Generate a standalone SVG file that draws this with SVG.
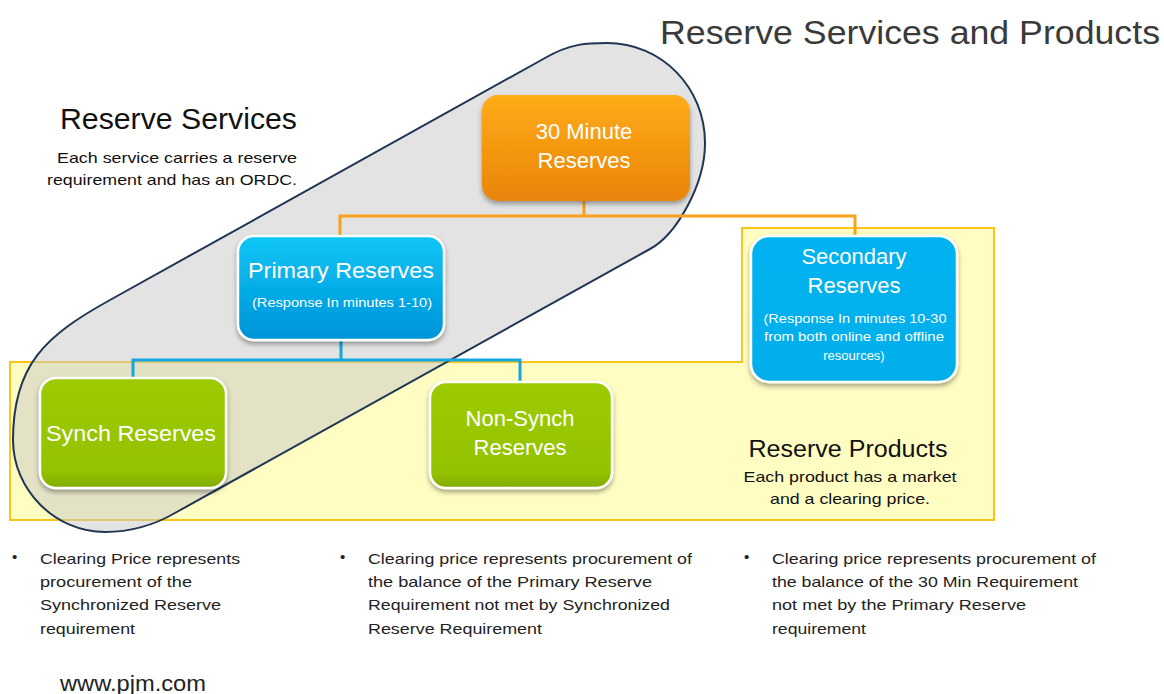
<svg xmlns="http://www.w3.org/2000/svg" width="1164" height="694" viewBox="0 0 1164 694">
  <style>
    text { font-family: "Liberation Sans", Arial, sans-serif; }
    .title { font-size: 33px; fill: #3a3a3a; }
    .head { font-size: 29px; fill: #111; }
    .sub { font-size: 15px; fill: #111; }
    .box-t { font-size: 22px; fill: #ffffff; text-anchor: middle; }
    .box-s { font-size: 13px; fill: #ffffff; text-anchor: middle; }
    .bul { font-size: 15px; fill: #222; }
    .conn-o { stroke: #f7a21b; stroke-width: 3; fill: none; }
    .conn-b { stroke: #14a8e0; stroke-width: 3; fill: none; }
    .box { stroke: #ffffff; stroke-width: 2.5; filter: url(#shadow); }
  </style>
  <defs>
    <filter id="shadow" x="-10%" y="-10%" width="120%" height="130%">
      <feDropShadow dx="0" dy="3" stdDeviation="2.5" flood-color="#000" flood-opacity="0.35"/>
    </filter>
    <linearGradient id="gOrange" x1="0" y1="0" x2="0" y2="1">
      <stop offset="0" stop-color="#ffac16"/>
      <stop offset="1" stop-color="#e9840b"/>
    </linearGradient>
    <linearGradient id="gBlue" x1="0" y1="0" x2="0" y2="1">
      <stop offset="0" stop-color="#0cc6f6"/>
      <stop offset="1" stop-color="#0094d8"/>
    </linearGradient>
    <linearGradient id="gBlue2" x1="0" y1="0" x2="0" y2="1">
      <stop offset="0" stop-color="#00b3f0"/>
      <stop offset="1" stop-color="#00aeea"/>
    </linearGradient>
    <linearGradient id="gGreen" x1="0" y1="0" x2="0" y2="1">
      <stop offset="0" stop-color="#9dcb00"/>
      <stop offset="0.85" stop-color="#93c200"/>
      <stop offset="1" stop-color="#82ab00"/>
    </linearGradient>
  </defs>

  <rect x="0" y="0" width="1164" height="694" fill="#ffffff"/>

  <!-- Reserve Products area -->
  <g id="products-area">
    <path d="M742 228 L994 228 L994 520 L10 520 L10 362 L742 362 Z" fill="#fffdc2" stroke="#f9c41c" stroke-width="2"/>
  </g>

  <!-- Reserve Services capsule -->
  <g id="services-capsule">
    <path d="M110 300 L545 58 C571 43 588 43 607 43 C662 43 705 88 705 143 C705 185 676 235 650 249 L175 513 C149 528 125 532 105 532 C55 532 13 490 13 440 C13 365 45 336 110 300 Z" fill="#c8c8c8" fill-opacity="0.5" stroke="#1f3552" stroke-width="2"/>
  </g>

  <!-- Connectors -->
  <g id="connectors">
    <path class="conn-o" d="M584 200 V216 M340 236 V216 H855 V236"/>
    <path class="conn-b" d="M341 340 V360 M133 378 V360 H520 V382"/>
  </g>

  <g id="node-30min">
    <rect x="482" y="95" width="208" height="106" rx="16" fill="url(#gOrange)" filter="url(#shadow)"/>
    <text class="box-t" x="584" y="139">30 Minute</text>
    <text class="box-t" x="584" y="168">Reserves</text>
  </g>

  <g id="node-primary">
    <rect class="box" x="238" y="236" width="206" height="104" rx="16" fill="url(#gBlue)"/>
    <text class="box-t" x="341" y="278" textLength="186" lengthAdjust="spacingAndGlyphs">Primary Reserves</text>
    <text class="box-s" x="342" y="307" textLength="180" lengthAdjust="spacingAndGlyphs">(Response  In minutes  1-10)</text>
  </g>

  <g id="node-secondary">
    <rect class="box" x="751" y="236" width="206" height="146" rx="18" fill="url(#gBlue2)"/>
    <text class="box-t" x="854" y="264">Secondary</text>
    <text class="box-t" x="854" y="293">Reserves</text>
    <text class="box-s" x="855" y="323" textLength="183" lengthAdjust="spacingAndGlyphs">(Response  In minutes  10-30</text>
    <text class="box-s" x="854" y="341" textLength="180" lengthAdjust="spacingAndGlyphs">from both  online and  offline</text>
    <text class="box-s" x="854" y="360">resources)</text>
  </g>

  <g id="node-synch">
    <rect class="box" x="40" y="378" width="186" height="110" rx="16" fill="url(#gGreen)"/>
    <text class="box-t" x="131" y="441" textLength="170" lengthAdjust="spacingAndGlyphs">Synch Reserves</text>
  </g>

  <g id="node-nonsynch">
    <rect class="box" x="430" y="382" width="182" height="106" rx="16" fill="url(#gGreen)"/>
    <text class="box-t" x="520" y="426">Non-Synch</text>
    <text class="box-t" x="520" y="455">Reserves</text>
  </g>

  <!-- Labels -->
  <g id="title">
    <text class="title" x="660" y="44" textLength="500" lengthAdjust="spacingAndGlyphs">Reserve Services and Products</text>
  </g>

  <g id="label-services">
    <text class="head" x="297" y="129" text-anchor="end" textLength="237" lengthAdjust="spacingAndGlyphs">Reserve Services</text>
    <text class="sub" x="297" y="163" text-anchor="end" textLength="240" lengthAdjust="spacingAndGlyphs">Each service carries a reserve</text>
    <text class="sub" x="297" y="185" text-anchor="end" textLength="250" lengthAdjust="spacingAndGlyphs">requirement and has an ORDC.</text>
  </g>

  <g id="label-products">
    <text x="848" y="457" text-anchor="middle" style="font-size:23px;fill:#111" textLength="199" lengthAdjust="spacingAndGlyphs">Reserve Products</text>
    <text class="sub" x="850" y="482" text-anchor="middle" textLength="213" lengthAdjust="spacingAndGlyphs">Each product has a market</text>
    <text class="sub" x="850" y="504" text-anchor="middle" textLength="160" lengthAdjust="spacingAndGlyphs">and a clearing price.</text>
  </g>

  <g id="notes-synch">
    <text class="bul" x="12" y="562">•</text>
    <text class="bul" x="40" y="564" textLength="200" lengthAdjust="spacingAndGlyphs">Clearing Price represents</text>
    <text class="bul" x="40" y="587" textLength="152" lengthAdjust="spacingAndGlyphs">procurement of the</text>
    <text class="bul" x="40" y="610" textLength="181" lengthAdjust="spacingAndGlyphs">Synchronized Reserve</text>
    <text class="bul" x="40" y="634" textLength="95" lengthAdjust="spacingAndGlyphs">requirement</text>
  </g>

  <g id="notes-nonsynch">
    <text class="bul" x="340" y="562">•</text>
    <text class="bul" x="368" y="564" textLength="324" lengthAdjust="spacingAndGlyphs">Clearing price represents procurement of</text>
    <text class="bul" x="368" y="587" textLength="284" lengthAdjust="spacingAndGlyphs">the balance of the Primary Reserve</text>
    <text class="bul" x="368" y="610" textLength="302" lengthAdjust="spacingAndGlyphs">Requirement not met by Synchronized</text>
    <text class="bul" x="368" y="634" textLength="174" lengthAdjust="spacingAndGlyphs">Reserve Requirement</text>
  </g>

  <g id="notes-secondary">
    <text class="bul" x="744" y="562">•</text>
    <text class="bul" x="772" y="564" textLength="324" lengthAdjust="spacingAndGlyphs">Clearing price represents procurement of</text>
    <text class="bul" x="772" y="587" textLength="306" lengthAdjust="spacingAndGlyphs">the balance of the 30 Min  Requirement</text>
    <text class="bul" x="772" y="610" textLength="254" lengthAdjust="spacingAndGlyphs">not met by the Primary Reserve</text>
    <text class="bul" x="772" y="634" textLength="94" lengthAdjust="spacingAndGlyphs">requirement</text>
  </g>

  <g id="footer">
    <text x="60" y="691" style="font-size:22px;fill:#222" textLength="146" lengthAdjust="spacingAndGlyphs">www.pjm.com</text>
  </g>
</svg>
